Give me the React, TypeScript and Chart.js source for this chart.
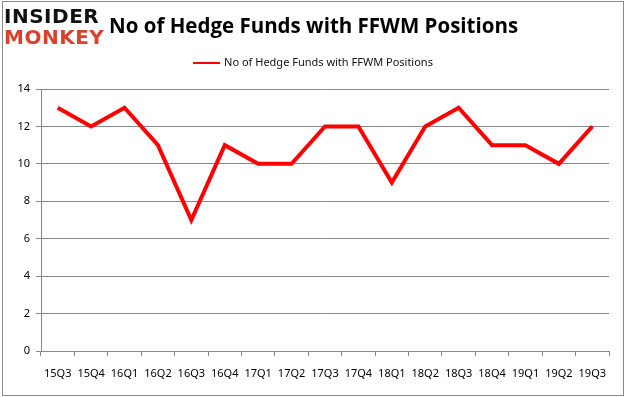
import React, { useEffect, useRef } from "react";
import { Chart, registerables } from "chart.js";

Chart.register(...registerables);

const categories = ["15Q3","15Q4","16Q1","16Q2","16Q3","16Q4","17Q1","17Q2","17Q3","17Q4","18Q1","18Q2","18Q3","18Q4","19Q1","19Q2","19Q3"];
const hedgeFunds = [13,12,13,11,7,11,10,10,12,12,9,12,13,11,11,10,12];
const seriesLabel = "No of Hedge Funds with FFWM Positions";
const titleText = "No of Hedge Funds with FFWM Positions";

const legendPlugin = {
  id: "customLegend",
  afterDraw(chart: any) {
    const ctx = chart.ctx;
    const ds = chart.data.datasets[0];
    ctx.save();
    ctx.font = "11px 'Noto Sans'";
    const tw = ctx.measureText(ds.label).width;
    const lineW = 27;
    const gap = 4;
    const total = lineW + gap + tw;
    const x0 = (chart.width - total) / 2;
    const y = 63;
    ctx.strokeStyle = ds.borderColor;
    ctx.lineWidth = 2;
    ctx.beginPath();
    ctx.moveTo(x0, y);
    ctx.lineTo(x0 + lineW, y);
    ctx.stroke();
    ctx.fillStyle = "#111";
    ctx.textBaseline = "middle";
    ctx.textAlign = "left";
    ctx.fillText(ds.label, x0 + lineW + gap, y);
    ctx.restore();
  },
};

export default function App() {
  const ref = useRef<HTMLCanvasElement>(null);
  useEffect(() => {
    document.body.style.margin = "0";
    const chart = new Chart(ref.current!, {
      type: "line",
      data: {
        labels: categories,
        datasets: [{
          label: seriesLabel,
          data: hedgeFunds,
          borderColor: "#ff0000",
          backgroundColor: "#ff0000",
          borderWidth: 4,
          pointRadius: 0,
          tension: 0,
        }],
      },
      plugins: [legendPlugin],
      options: {
        animation: false,
        responsive: false,
        maintainAspectRatio: false,
        layout: { padding: { top: 89, right: 17, left: 0, bottom: 0 } },
        plugins: {
          legend: { display: false },
          tooltip: { enabled: false },
        },
        scales: {
          x: {
            offset: true,
            grid: { display: true, drawOnChartArea: false, drawTicks: true, tickLength: 5, offset: true, color: "#878787" },
            border: { display: true, color: "#878787" },
            ticks: { color: "#000", font: { family: "Noto Sans", size: 11 }, padding: 11, maxRotation: 0, autoSkip: false },
            afterFit: (s: any) => { s.height = 46; },
          },
          y: {
            min: 0,
            max: 14,
            ticks: { stepSize: 2, color: "#000", font: { family: "Noto Sans", size: 11 }, padding: 6 },
            grid: { color: "#878787", tickLength: 5 },
            border: { display: true, color: "#878787" },
            afterFit: (s: any) => { s.width = 41; },
          },
        },
      },
    });
    return () => chart.destroy();
  }, []);
  return (
    <div style={{ position: "relative", width: 626, height: 397, overflow: "hidden", background: "#fff" }}>
      <div style={{ position: "absolute", left: 2, top: 1, width: 622, height: 395, boxSizing: "border-box", border: "1px solid #8a8a8a" }} />
      <canvas ref={ref} width={626} height={397} style={{ position: "absolute", left: 0, top: 0 }} />
      <div style={{ position: "absolute", left: 4, top: 6, fontFamily: "DejaVu Sans", fontWeight: 900, fontSize: 20, lineHeight: "21px", letterSpacing: 0.5 }}>
        <div style={{ color: "#111" }}>INSIDER</div>
        <div style={{ color: "#d8412c" }}>MONKEY</div>
      </div>
      <div style={{ position: "absolute", left: 109, top: 11, fontFamily: "Open Sans", fontWeight: 700, fontSize: 20.5, color: "#000", whiteSpace: "nowrap", lineHeight: "28px" }}>
        {titleText}
      </div>
    </div>
  );
}
